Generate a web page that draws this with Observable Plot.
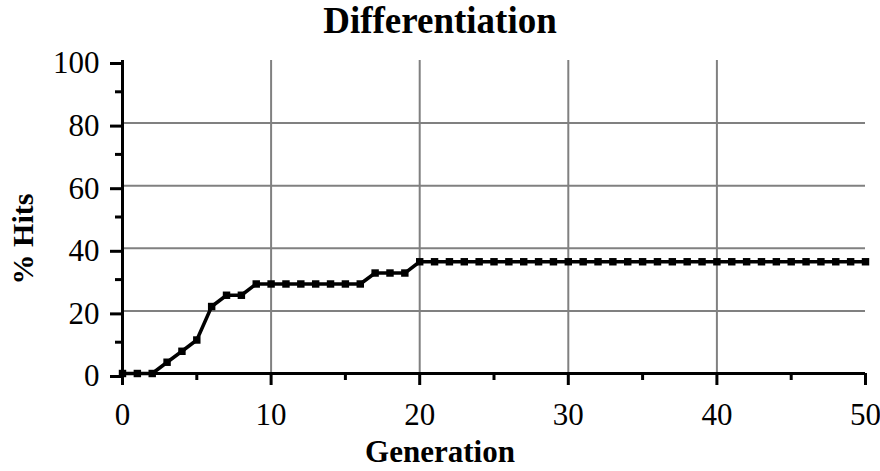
<!DOCTYPE html>
<html>
<head>
<meta charset="utf-8">
<script src="https://cdn.jsdelivr.net/npm/d3@7"></script>
<script src="https://cdn.jsdelivr.net/npm/@observablehq/plot@0.6"></script>
<style>
  html, body { margin: 0; padding: 0; background: #fff; }
  #chart svg { display: block; }
</style>
</head>
<body>
<div id="chart"></div>
<script>
// Data
const generations = d3.range(0, 51);
const hitsStart = [0, 0, 0, 3.6, 7.1, 10.7, 21.4, 25, 25, 28.6, 28.6, 28.6, 28.6, 28.6, 28.6, 28.6, 28.6, 32.1, 32.1, 32.1];
const plateauValue = 35.7;
const hits = generations.map((g, i) => i < hitsStart.length ? hitsStart[i] : plateauValue);
const xMajorTicks = [0, 10, 20, 30, 40, 50];
const xMinorTicks = [5, 15, 25, 35, 45];
const yMajorTicks = [0, 20, 40, 60, 80, 100];
const yMinorTicks = [10, 30, 50, 70, 90];
const xGrid = [10, 20, 30, 40];
const yGrid = [20, 40, 60, 80];
const titleText = "Differentiation";
const xLabel = "Generation";
const yLabel = "% Hits";

const data = generations.map((g, i) => ({g, v: hits[i]}));
const font = "'Liberation Serif', 'Times New Roman', serif";

const chart = Plot.plot({
  width: 880,
  height: 471,
  marginLeft: 122,
  marginRight: 15,
  marginTop: 60,
  marginBottom: 98,
  style: {fontFamily: font, fontSize: "31px", color: "#000", background: "#fff"},
  x: {domain: [0, 50], label: null},
  y: {domain: [0, 100], label: null},
  marks: [
    Plot.gridX(xGrid, {stroke: "#808080", strokeOpacity: 1, strokeWidth: 2}),
    Plot.gridY(yGrid, {stroke: "#808080", strokeOpacity: 1, strokeWidth: 2}),
    Plot.axisX(xMajorTicks, {tickSize: 12, tickPadding: 17, strokeWidth: 3, fontSize: 31, tickFormat: d => String(d)}),
    Plot.axisX(xMinorTicks, {tickSize: 7, strokeWidth: 3, text: null}),
    Plot.axisY(yMajorTicks, {tickSize: 12, tickPadding: 11, strokeWidth: 3, fontSize: 31, dy: 3, tickFormat: d => String(d)}),
    Plot.axisY(yMinorTicks, {tickSize: 7, strokeWidth: 3, text: null}),
    Plot.ruleY([0], {stroke: "#000", strokeWidth: 3}),
    Plot.ruleX([0], {stroke: "#000", strokeWidth: 3}),
    Plot.line(data, {x: "g", y: "v", stroke: "#000", strokeWidth: 3.5}),
    Plot.dot(data, {x: "g", y: "v", symbol: "square", r: 4.2, fill: "#000", stroke: "none"})
  ]
});

const svg = d3.select(chart);
svg.append("text")
  .attr("x", 440).attr("y", 33)
  .attr("text-anchor", "middle")
  .attr("font-family", font).attr("font-weight", "bold").attr("font-size", 37)
  .attr("fill", "#000")
  .text(titleText);
svg.append("text")
  .attr("x", 440).attr("y", 462)
  .attr("text-anchor", "middle")
  .attr("font-family", font).attr("font-weight", "bold").attr("font-size", 31)
  .attr("fill", "#000")
  .text(xLabel);
svg.append("text")
  .attr("transform", "translate(33,239) rotate(-90)")
  .attr("text-anchor", "middle")
  .attr("font-family", font).attr("font-weight", "bold").attr("font-size", 30)
  .attr("fill", "#000")
  .text(yLabel);

document.getElementById("chart").appendChild(chart);
</script>
</body>
</html>
